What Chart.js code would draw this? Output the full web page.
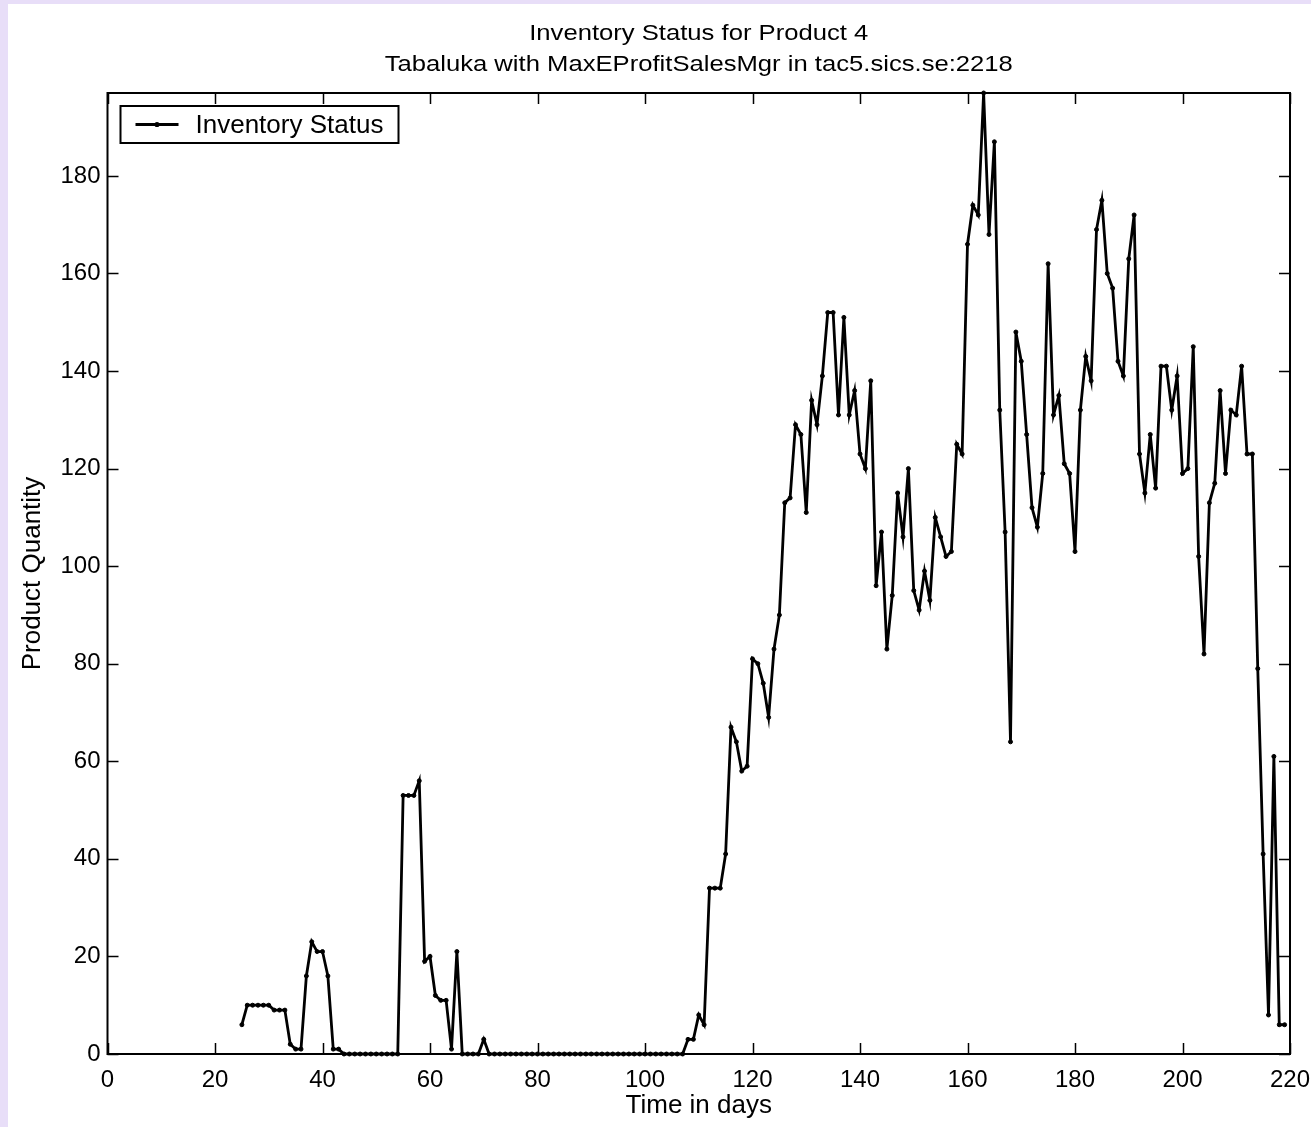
<!DOCTYPE html>
<html>
<head>
<meta charset="utf-8">
<title>Inventory Status for Product 4</title>
<script src="https://cdn.jsdelivr.net/npm/chart.js@4.4.1/dist/chart.umd.min.js"></script>
<style>
  html, body { margin: 0; padding: 0; background: #e8def8; }
  #wrap { position: absolute; left: 8px; top: 4px; width: 1303px; height: 1123px; background: #ffffff; }
  canvas { display: block; }
</style>
</head>
<body>
<div id="wrap"><canvas id="myChart" width="1303" height="1123"></canvas></div>
<script>
// titel en labels
const titleLines = ['Inventory Status for Product 4', 'Tabaluka with MaxEProfitSalesMgr in tac5.sics.se:2218'];
const seriesLabel = 'Inventory Status';
const xTitle = 'Time in days';
const yTitle = 'Product Quantity';

// eerste dag van de reeks, daarna 1 punt per dag
const firstDay = 25;

// voorraad per dag (dag 25 t/m 219)
const inventory = [
  6, 10, 10, 10, 10, 10, 9, 9, 9, 2, 1, 1, 16, 23, 21, 21, 16, 1, 1,      // 25-43
  0, 0, 0, 0, 0, 0, 0, 0, 0, 0, 0,                                       // 44-54
  53, 53, 53, 56, 19, 20, 12, 11, 11, 1, 21,                             // 55-65
  0, 0, 0, 0, 3,                                                         // 66-70
  0, 0, 0, 0, 0, 0, 0, 0, 0, 0, 0, 0, 0, 0, 0, 0, 0, 0, 0, 0,            // 71-90
  0, 0, 0, 0, 0, 0, 0, 0, 0, 0, 0, 0, 0, 0, 0, 0, 0,                     // 91-107
  3, 3, 8, 6, 34, 34, 34, 41,                                            // 108-115
  67, 64, 58, 59, 81, 80, 76, 69, 83, 90,                                // 116-125
  113, 114, 129, 127, 111, 134, 129, 139, 152, 152,                      // 126-135
  131, 151, 131, 136, 123, 120, 138, 96, 107, 83,                        // 136-145
  94, 115, 106, 120, 95, 91, 99, 93, 110, 106,                           // 146-155
  102, 103, 125, 123, 166, 174, 172, 197, 168, 187,                      // 156-165
  132, 107, 64, 148, 142, 127, 112, 108, 119, 162,                       // 166-175
  131, 135, 121, 119, 103, 132, 143, 138, 169, 175,                      // 176-185
  160, 157, 142, 139, 163, 172, 123, 115, 127, 116,                      // 186-195
  141, 141, 132, 139, 119, 120, 145, 102, 82, 113,                       // 196-205
  117, 136, 119, 132, 131, 141, 123, 123, 79, 41,                        // 206-215
  8, 61, 6, 6                                                            // 216-219
];

// asbereik
const xMin = 0, xMax = 220, xStep = 20;
const yMin = 0, yMax = 197, yStep = 20;

const fontFamily = '"Liberation Sans", Arial, Helvetica, sans-serif';

// rand + tick-streepjes aan de binnenkant, op alle vier de zijden
const framePlugin = {
  id: 'frame',
  afterDraw(chart) {
    const ctx = chart.ctx;
    const a = chart.chartArea;
    const len = 11;
    ctx.save();
    ctx.strokeStyle = '#000';
    ctx.lineWidth = 1.5;
    ctx.beginPath();
    chart.scales.x.ticks.forEach(t => {
      const px = Math.round(chart.scales.x.getPixelForValue(t.value)) + 0.5;
      ctx.moveTo(px, a.bottom); ctx.lineTo(px, a.bottom - len);
      ctx.moveTo(px, a.top); ctx.lineTo(px, a.top + len);
    });
    chart.scales.y.ticks.forEach(t => {
      const py = Math.round(chart.scales.y.getPixelForValue(t.value)) + 0.5;
      ctx.moveTo(a.left, py); ctx.lineTo(a.left + len, py);
      ctx.moveTo(a.right, py); ctx.lineTo(a.right - len, py);
    });
    ctx.stroke();
    ctx.lineWidth = 2;
    ctx.strokeRect(a.left, a.top, a.right - a.left, a.bottom - a.top);
    ctx.restore();
  }
};

// titel (twee regels) boven het plotgebied
const titlePlugin = {
  id: 'twoLineTitle',
  afterDraw(chart) {
    const ctx = chart.ctx;
    const a = chart.chartArea;
    const cx = (a.left + a.right) / 2;
    const baselines = [36, 67];
    ctx.save();
    ctx.fillStyle = '#000';
    ctx.font = '22px ' + fontFamily;
    ctx.textAlign = 'center';
    ctx.textBaseline = 'alphabetic';
    titleLines.forEach((line, i) => {
      ctx.save();
      ctx.translate(cx, baselines[i]);
      ctx.scale(1.165, 1);
      ctx.fillText(line, 0, 0);
      ctx.restore();
    });
    ctx.restore();
  }
};

// legenda met kader linksboven in het plotgebied
const legendPlugin = {
  id: 'boxLegend',
  afterDraw(chart) {
    const ctx = chart.ctx;
    const a = chart.chartArea;
    const bx = a.left + 13, by = a.top + 13, bw = 278, bh = 37;
    const my = by + bh / 2;
    ctx.save();
    ctx.fillStyle = '#fff';
    ctx.fillRect(bx, by, bw, bh);
    ctx.strokeStyle = '#000';
    ctx.lineWidth = 2;
    ctx.strokeRect(bx, by, bw, bh);
    ctx.lineWidth = 2.8;
    ctx.beginPath();
    ctx.moveTo(bx + 15, my); ctx.lineTo(bx + 58, my);
    ctx.stroke();
    ctx.fillStyle = '#000';
    ctx.beginPath();
    ctx.arc(bx + 36.5, my, 2.6, 0, Math.PI * 2);
    ctx.fill();
    ctx.font = '26px ' + fontFamily;
    ctx.textAlign = 'left';
    ctx.textBaseline = 'middle';
    ctx.fillText(seriesLabel, bx + 75, my + 1);
    ctx.restore();
  }
};

function createChart(ctx) {
  const points = inventory.map((v, i) => ({ x: firstDay + i, y: v }));

  return new Chart(ctx, {
    type: 'line',
    data: {
      datasets: [{
        label: seriesLabel,
        data: points,
        borderColor: '#000',
        backgroundColor: '#000',
        borderWidth: 2.8,
        pointRadius: 2,
        pointBorderWidth: 1,
        pointBackgroundColor: '#000',
        pointBorderColor: '#000',
        tension: 0,
        clip: false
      }]
    },
    options: {
      responsive: false,
      animation: false,
      devicePixelRatio: 1,
      layout: { padding: { left: 0, top: 89, right: 21, bottom: 0 } },
      plugins: {
        legend: { display: false },
        title: { display: false },
        tooltip: { enabled: false }
      },
      scales: {
        x: {
          type: 'linear',
          min: xMin,
          max: xMax,
          grid: { display: false, drawTicks: false },
          border: { display: false },
          ticks: {
            stepSize: xStep,
            includeBounds: false,
            padding: 12,
            color: '#000',
            maxRotation: 0,
            font: { family: fontFamily, size: 24 }
          },
          title: {
            display: true,
            text: xTitle,
            color: '#000',
            padding: { top: 0, bottom: 6 },
            font: { family: fontFamily, size: 26 }
          },
          afterFit(scale) {
            scale.height = 73;
            scale.paddingLeft = 0;
            scale.paddingRight = 0;
          }
        },
        y: {
          type: 'linear',
          min: yMin,
          max: yMax,
          grid: { display: false, drawTicks: false },
          border: { display: false },
          ticks: {
            stepSize: yStep,
            includeBounds: false,
            padding: 7,
            color: '#000',
            font: { family: fontFamily, size: 24 }
          },
          title: {
            display: true,
            text: yTitle,
            color: '#000',
            padding: { top: 9, bottom: 0 },
            font: { family: fontFamily, size: 26 }
          },
          afterFit(scale) {
            scale.width = 99.5;
            scale.paddingTop = 0;
            scale.paddingBottom = 0;
          }
        }
      }
    },
    plugins: [framePlugin, titlePlugin, legendPlugin]
  });
}

window.addEventListener('DOMContentLoaded', () => {
  const ctx = document.getElementById('myChart').getContext('2d');
  createChart(ctx);
});
</script>
</body>
</html>
